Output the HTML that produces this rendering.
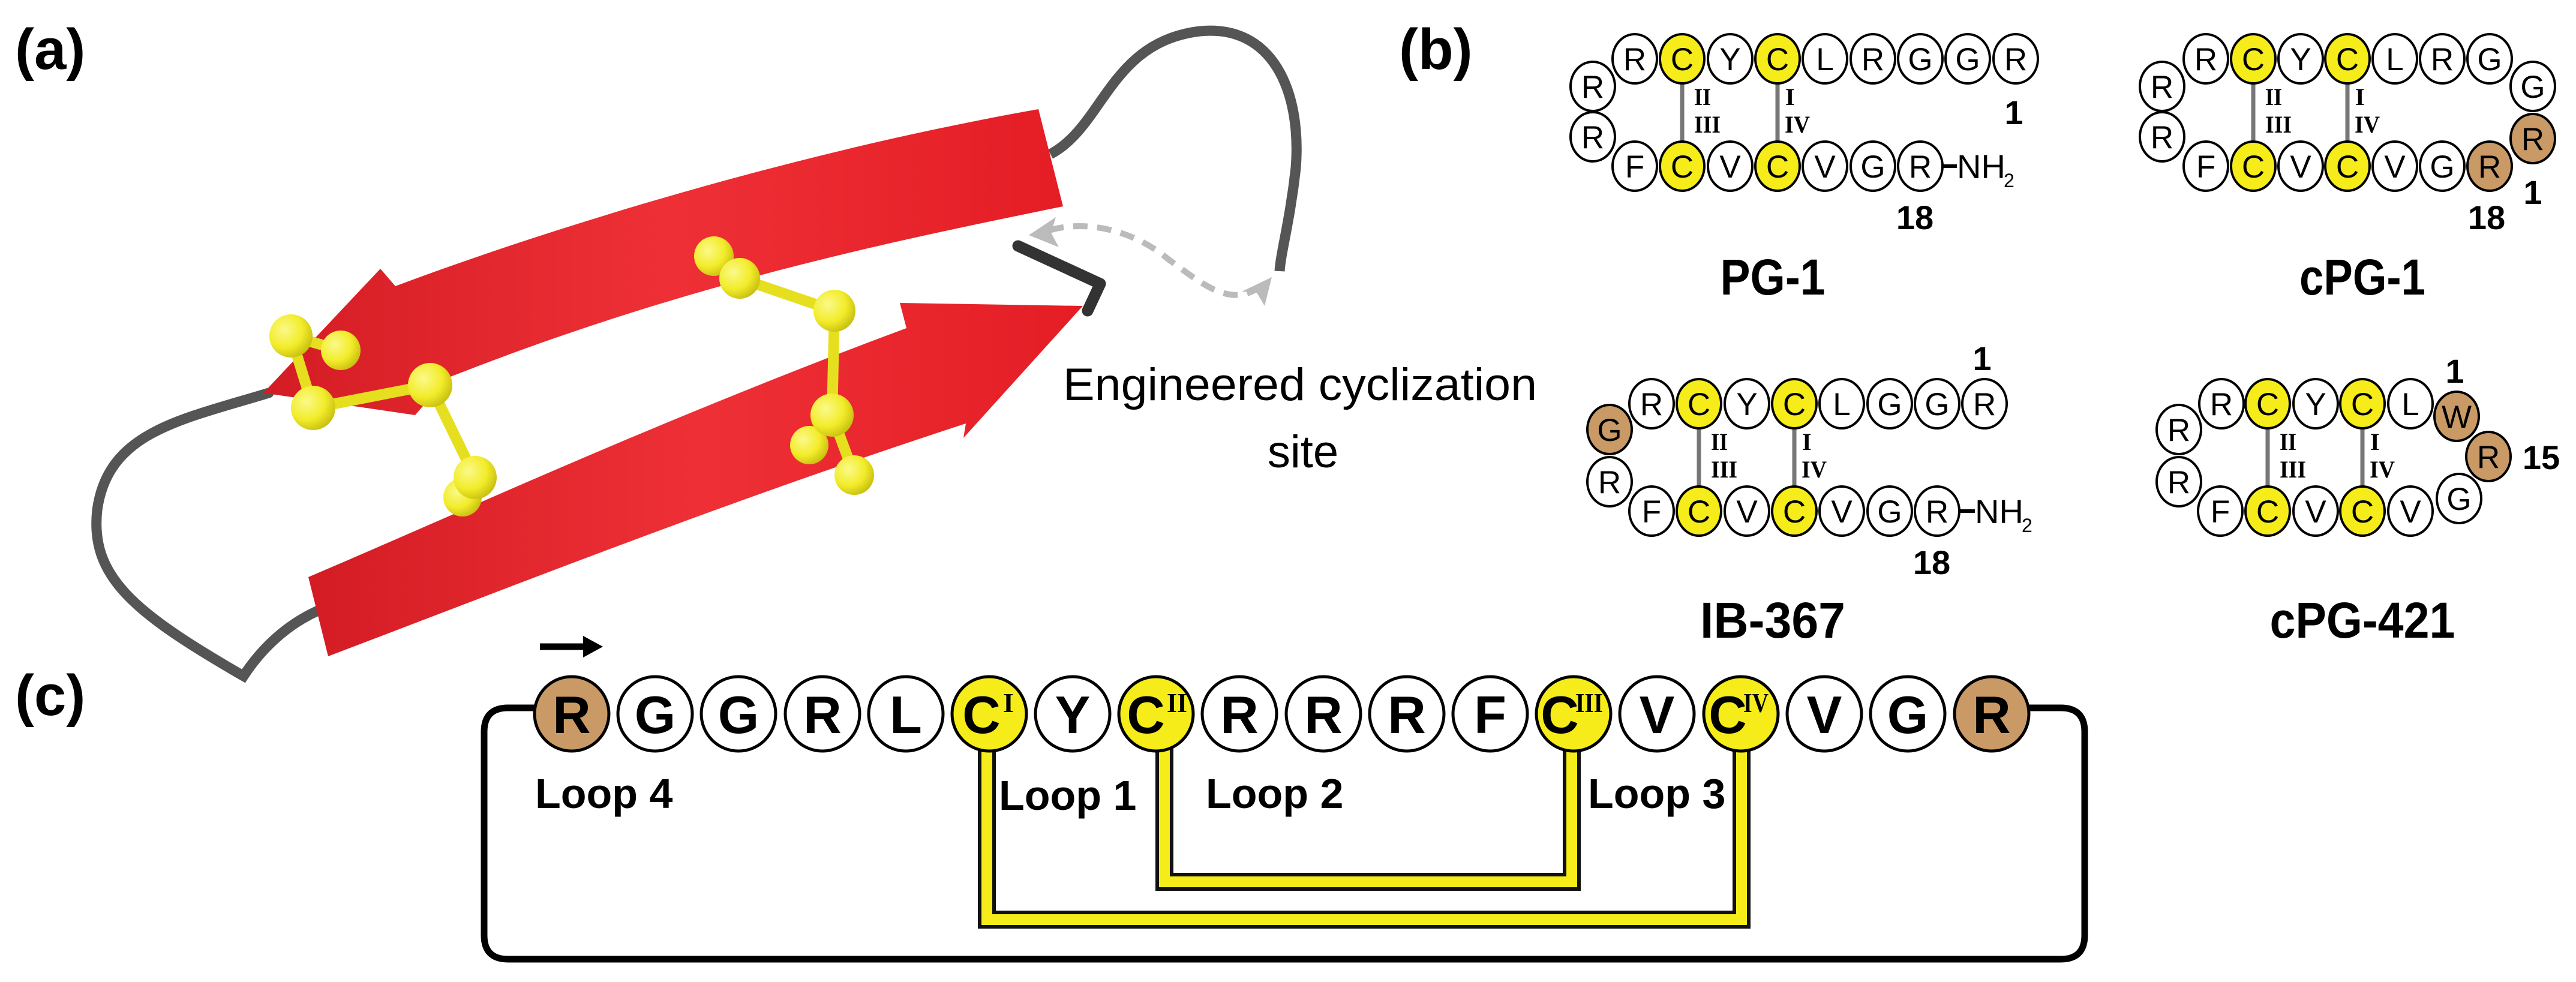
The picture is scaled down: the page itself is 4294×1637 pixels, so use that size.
<!DOCTYPE html>
<html><head><meta charset="utf-8"><style>
html,body{margin:0;padding:0;background:#fff}
svg{display:block}
.l{font-family:"Liberation Sans",sans-serif}
.b{font-family:"Liberation Sans",sans-serif;font-weight:bold}
.rm{font-family:"Liberation Serif",serif;font-weight:bold}
.cb ellipse{stroke:#000;stroke-width:4}
.cb text{font-family:"Liberation Sans",sans-serif;font-size:53px;text-anchor:middle}
.cc circle{stroke:#000;stroke-width:5}
.cc text{font-family:"Liberation Sans",sans-serif;font-weight:bold;font-size:88px;text-anchor:middle}
.w{fill:#fff}.y{fill:#f5ec1a}.t{fill:#c99a66}
</style></head><body>
<svg width="4294" height="1637" viewBox="0 0 4294 1637" xmlns="http://www.w3.org/2000/svg">
<defs>
<linearGradient id="rg" x1="0" y1="0" x2="1" y2="0">
<stop offset="0" stop-color="#d41c24"/><stop offset="0.5" stop-color="#ee3036"/><stop offset="1" stop-color="#e51d25"/></linearGradient>
<radialGradient id="yb" cx="0.35" cy="0.35" r="0.7"><stop offset="0" stop-color="#fbf98a"/><stop offset="0.6" stop-color="#f2ec2a"/><stop offset="1" stop-color="#c8c010"/></radialGradient>
</defs>

<!-- panel labels -->
<text x="25" y="115" class="b" font-size="96">(a)</text>
<text x="2332" y="115" class="b" font-size="96">(b)</text>
<text x="25" y="1192" class="b" font-size="96">(c)</text>

<!-- panel a -->
<path d="M448,655 C300,700 180,720 162,850 C150,960 220,1020 406,1127 C430,1090 470,1045 530,1018" fill="none" stroke="#555" stroke-width="17" stroke-linecap="round"/>
<path d="M1751,257 C1840,210 1850,70 2000,52 C2120,40 2170,150 2160,280 C2150,370 2135,420 2133,452" fill="none" stroke="#555" stroke-width="17"/>
<path d="M1731,182 L1772,344 C1500,400 1150,470 746,630 L692,692 L439,655 L634,448 L659,477 C1000,350 1400,240 1731,182 Z" fill="url(#rg)"/>
<path d="M514,962 C800,840 1100,700 1511,547 L1500,505 L1805,510 L1606,730 L1610,706 C1200,840 900,960 547,1094 Z" fill="url(#rg)"/>
<path d="M1697,410 L1834,473 L1813,518" fill="none" stroke="#333" stroke-width="19" stroke-linecap="round" stroke-linejoin="round"/>
<path d="M2100,478 C2050,515 2000,470 1946,431 C1900,392 1820,362 1745,385" fill="none" stroke="#bbb" stroke-width="10" stroke-dasharray="24 16"/>
<path d="M1715,392 L1760,362 L1752,388 L1765,412 Z" fill="#bbb"/>
<path d="M2120,462 L2108,510 L2095,488 L2070,486 Z" fill="#bbb"/>
<g stroke="#e6df20" stroke-width="18" stroke-linecap="round">
<line x1="485" y1="560" x2="568" y2="584"/><line x1="485" y1="560" x2="522" y2="680"/><line x1="522" y1="680" x2="717" y2="642"/><line x1="717" y1="642" x2="792" y2="796"/><line x1="792" y1="796" x2="771" y2="829"/>
<line x1="1190" y1="427" x2="1233" y2="464"/><line x1="1233" y1="464" x2="1391" y2="518"/><line x1="1391" y1="518" x2="1387" y2="692"/><line x1="1387" y1="692" x2="1349" y2="742"/><line x1="1387" y1="692" x2="1424" y2="792"/>
</g>
<g fill="url(#yb)">
<circle cx="568" cy="584" r="33"/><circle cx="485" cy="560" r="36"/><circle cx="522" cy="680" r="37"/><circle cx="717" cy="642" r="37"/><circle cx="771" cy="829" r="32"/><circle cx="792" cy="796" r="36"/>
<circle cx="1190" cy="427" r="33"/><circle cx="1233" cy="464" r="34"/><circle cx="1391" cy="518" r="35"/><circle cx="1349" cy="742" r="32"/><circle cx="1387" cy="692" r="36"/><circle cx="1424" cy="792" r="33"/>
</g>
<text x="1772" y="667" class="l" font-size="76" textLength="790" lengthAdjust="spacingAndGlyphs">Engineered cyclization</text>
<text x="2172" y="779" class="l" font-size="76" text-anchor="middle">site</text>

<!-- panel b: PG-1 -->
<g stroke="#777" stroke-width="7"><line x1="2804" y1="130" x2="2804" y2="245"/><line x1="2963" y1="130" x2="2963" y2="245"/>
<line x1="3756" y1="130" x2="3756" y2="245"/><line x1="3913" y1="130" x2="3913" y2="245"/>
<line x1="2832" y1="705" x2="2832" y2="820"/><line x1="2991" y1="705" x2="2991" y2="820"/>
<line x1="3780" y1="705" x2="3780" y2="820"/><line x1="3938" y1="705" x2="3938" y2="820"/></g>
<g class="cb">
<ellipse cx="2655" cy="144" rx="37" ry="41" class="w"/><text x="2655" y="163">R</text>
<ellipse cx="2655" cy="228" rx="37" ry="41" class="w"/><text x="2655" y="247">R</text>
<ellipse cx="2725" cy="98" rx="37" ry="41" class="w"/><text x="2725" y="117">R</text>
<ellipse cx="2804" cy="98" rx="37" ry="41" class="y"/><text x="2804" y="117">C</text>
<ellipse cx="2884" cy="98" rx="37" ry="41" class="w"/><text x="2884" y="117">Y</text>
<ellipse cx="2963" cy="98" rx="37" ry="41" class="y"/><text x="2963" y="117">C</text>
<ellipse cx="3042" cy="98" rx="37" ry="41" class="w"/><text x="3042" y="117">L</text>
<ellipse cx="3122" cy="98" rx="37" ry="41" class="w"/><text x="3122" y="117">R</text>
<ellipse cx="3201" cy="98" rx="37" ry="41" class="w"/><text x="3201" y="117">G</text>
<ellipse cx="3280" cy="98" rx="37" ry="41" class="w"/><text x="3280" y="117">G</text>
<ellipse cx="3360" cy="98" rx="37" ry="41" class="w"/><text x="3360" y="117">R</text>
<ellipse cx="2725" cy="277" rx="37" ry="41" class="w"/><text x="2725" y="296">F</text>
<ellipse cx="2804" cy="277" rx="37" ry="41" class="y"/><text x="2804" y="296">C</text>
<ellipse cx="2884" cy="277" rx="37" ry="41" class="w"/><text x="2884" y="296">V</text>
<ellipse cx="2963" cy="277" rx="37" ry="41" class="y"/><text x="2963" y="296">C</text>
<ellipse cx="3042" cy="277" rx="37" ry="41" class="w"/><text x="3042" y="296">V</text>
<ellipse cx="3122" cy="277" rx="37" ry="41" class="w"/><text x="3122" y="296">G</text>
<ellipse cx="3201" cy="277" rx="37" ry="41" class="w"/><text x="3201" y="296">R</text>
</g>
<line x1="3238" y1="277" x2="3262" y2="277" stroke="#000" stroke-width="6"/>
<text x="3262" y="297" class="l" font-size="56">NH</text><text x="3340" y="312" class="l" font-size="32">2</text>
<text x="2824" y="175" class="rm" font-size="40" textLength="28" lengthAdjust="spacingAndGlyphs">II</text>
<text x="2824" y="221" class="rm" font-size="40" textLength="44" lengthAdjust="spacingAndGlyphs">III</text>
<text x="2976" y="175" class="rm" font-size="40">I</text>
<text x="2975" y="221" class="rm" font-size="40" textLength="42" lengthAdjust="spacingAndGlyphs">IV</text>
<text x="3357" y="207" class="b" font-size="56" text-anchor="middle">1</text>
<text x="3192" y="382" class="b" font-size="56" text-anchor="middle">18</text>
<text x="2955" y="491" class="b" font-size="84" text-anchor="middle" textLength="175" lengthAdjust="spacingAndGlyphs">PG-1</text>

<!-- cPG-1 -->
<g class="cb">
<ellipse cx="3604" cy="144" rx="37" ry="41" class="w"/><text x="3604" y="163">R</text>
<ellipse cx="3604" cy="228" rx="37" ry="41" class="w"/><text x="3604" y="247">R</text>
<ellipse cx="3677" cy="98" rx="37" ry="41" class="w"/><text x="3677" y="117">R</text>
<ellipse cx="3756" cy="98" rx="37" ry="41" class="y"/><text x="3756" y="117">C</text>
<ellipse cx="3835" cy="98" rx="37" ry="41" class="w"/><text x="3835" y="117">Y</text>
<ellipse cx="3913" cy="98" rx="37" ry="41" class="y"/><text x="3913" y="117">C</text>
<ellipse cx="3992" cy="98" rx="37" ry="41" class="w"/><text x="3992" y="117">L</text>
<ellipse cx="4071" cy="98" rx="37" ry="41" class="w"/><text x="4071" y="117">R</text>
<ellipse cx="4150" cy="98" rx="37" ry="41" class="w"/><text x="4150" y="117">G</text>
<ellipse cx="4222" cy="144" rx="37" ry="41" class="w"/><text x="4222" y="163">G</text>
<ellipse cx="4222" cy="231" rx="37" ry="41" class="t"/><text x="4222" y="250">R</text>
<ellipse cx="3677" cy="277" rx="37" ry="41" class="w"/><text x="3677" y="296">F</text>
<ellipse cx="3756" cy="277" rx="37" ry="41" class="y"/><text x="3756" y="296">C</text>
<ellipse cx="3835" cy="277" rx="37" ry="41" class="w"/><text x="3835" y="296">V</text>
<ellipse cx="3913" cy="277" rx="37" ry="41" class="y"/><text x="3913" y="296">C</text>
<ellipse cx="3992" cy="277" rx="37" ry="41" class="w"/><text x="3992" y="296">V</text>
<ellipse cx="4071" cy="277" rx="37" ry="41" class="w"/><text x="4071" y="296">G</text>
<ellipse cx="4150" cy="277" rx="37" ry="41" class="t"/><text x="4150" y="296">R</text>
</g>
<text x="3776" y="175" class="rm" font-size="40" textLength="28" lengthAdjust="spacingAndGlyphs">II</text>
<text x="3776" y="221" class="rm" font-size="40" textLength="44" lengthAdjust="spacingAndGlyphs">III</text>
<text x="3926" y="175" class="rm" font-size="40">I</text>
<text x="3925" y="221" class="rm" font-size="40" textLength="42" lengthAdjust="spacingAndGlyphs">IV</text>
<text x="4222" y="340" class="b" font-size="56" text-anchor="middle">1</text>
<text x="4145" y="382" class="b" font-size="56" text-anchor="middle">18</text>
<text x="3938" y="491" class="b" font-size="84" text-anchor="middle" textLength="210" lengthAdjust="spacingAndGlyphs">cPG-1</text>

<!-- IB-367 -->
<g class="cb">
<ellipse cx="2683" cy="716" rx="37" ry="41" class="t"/><text x="2683" y="735">G</text>
<ellipse cx="2683" cy="803" rx="37" ry="41" class="w"/><text x="2683" y="822">R</text>
<ellipse cx="2753" cy="673" rx="37" ry="41" class="w"/><text x="2753" y="692">R</text>
<ellipse cx="2832" cy="673" rx="37" ry="41" class="y"/><text x="2832" y="692">C</text>
<ellipse cx="2912" cy="673" rx="37" ry="41" class="w"/><text x="2912" y="692">Y</text>
<ellipse cx="2991" cy="673" rx="37" ry="41" class="y"/><text x="2991" y="692">C</text>
<ellipse cx="3070" cy="673" rx="37" ry="41" class="w"/><text x="3070" y="692">L</text>
<ellipse cx="3150" cy="673" rx="37" ry="41" class="w"/><text x="3150" y="692">G</text>
<ellipse cx="3229" cy="673" rx="37" ry="41" class="w"/><text x="3229" y="692">G</text>
<ellipse cx="3308" cy="673" rx="37" ry="41" class="w"/><text x="3308" y="692">R</text>
<ellipse cx="2753" cy="852" rx="37" ry="41" class="w"/><text x="2753" y="871">F</text>
<ellipse cx="2832" cy="852" rx="37" ry="41" class="y"/><text x="2832" y="871">C</text>
<ellipse cx="2912" cy="852" rx="37" ry="41" class="w"/><text x="2912" y="871">V</text>
<ellipse cx="2991" cy="852" rx="37" ry="41" class="y"/><text x="2991" y="871">C</text>
<ellipse cx="3070" cy="852" rx="37" ry="41" class="w"/><text x="3070" y="871">V</text>
<ellipse cx="3150" cy="852" rx="37" ry="41" class="w"/><text x="3150" y="871">G</text>
<ellipse cx="3229" cy="852" rx="37" ry="41" class="w"/><text x="3229" y="871">R</text>
</g>
<line x1="3266" y1="852" x2="3292" y2="852" stroke="#000" stroke-width="6"/>
<text x="3292" y="872" class="l" font-size="56">NH</text><text x="3370" y="887" class="l" font-size="32">2</text>
<text x="2852" y="750" class="rm" font-size="40" textLength="28" lengthAdjust="spacingAndGlyphs">II</text>
<text x="2852" y="796" class="rm" font-size="40" textLength="44" lengthAdjust="spacingAndGlyphs">III</text>
<text x="3004" y="750" class="rm" font-size="40">I</text>
<text x="3003" y="796" class="rm" font-size="40" textLength="42" lengthAdjust="spacingAndGlyphs">IV</text>
<text x="3304" y="617" class="b" font-size="56" text-anchor="middle">1</text>
<text x="3220" y="957" class="b" font-size="56" text-anchor="middle">18</text>
<text x="2955" y="1063" class="b" font-size="84" text-anchor="middle" textLength="242" lengthAdjust="spacingAndGlyphs">IB-367</text>

<!-- cPG-421 -->
<g class="cb">
<ellipse cx="3632" cy="716" rx="37" ry="41" class="w"/><text x="3632" y="735">R</text>
<ellipse cx="3632" cy="803" rx="37" ry="41" class="w"/><text x="3632" y="822">R</text>
<ellipse cx="3703" cy="673" rx="37" ry="41" class="w"/><text x="3703" y="692">R</text>
<ellipse cx="3780" cy="673" rx="37" ry="41" class="y"/><text x="3780" y="692">C</text>
<ellipse cx="3860" cy="673" rx="37" ry="41" class="w"/><text x="3860" y="692">Y</text>
<ellipse cx="3938" cy="673" rx="37" ry="41" class="y"/><text x="3938" y="692">C</text>
<ellipse cx="4018" cy="673" rx="37" ry="41" class="w"/><text x="4018" y="692">L</text>
<ellipse cx="4095" cy="694" rx="37" ry="41" class="t"/><text x="4095" y="713">W</text>
<ellipse cx="4148" cy="761" rx="37" ry="41" class="t"/><text x="4148" y="780">R</text>
<ellipse cx="4099" cy="831" rx="37" ry="41" class="w"/><text x="4099" y="850">G</text>
<ellipse cx="3701" cy="852" rx="37" ry="41" class="w"/><text x="3701" y="871">F</text>
<ellipse cx="3780" cy="852" rx="37" ry="41" class="y"/><text x="3780" y="871">C</text>
<ellipse cx="3860" cy="852" rx="37" ry="41" class="w"/><text x="3860" y="871">V</text>
<ellipse cx="3938" cy="852" rx="37" ry="41" class="y"/><text x="3938" y="871">C</text>
<ellipse cx="4018" cy="852" rx="37" ry="41" class="w"/><text x="4018" y="871">V</text>
</g>
<text x="3800" y="750" class="rm" font-size="40" textLength="28" lengthAdjust="spacingAndGlyphs">II</text>
<text x="3800" y="796" class="rm" font-size="40" textLength="44" lengthAdjust="spacingAndGlyphs">III</text>
<text x="3951" y="750" class="rm" font-size="40">I</text>
<text x="3950" y="796" class="rm" font-size="40" textLength="42" lengthAdjust="spacingAndGlyphs">IV</text>
<text x="4092" y="638" class="b" font-size="56" text-anchor="middle">1</text>
<text x="4236" y="782" class="b" font-size="56" text-anchor="middle">15</text>
<text x="3938" y="1063" class="b" font-size="84" text-anchor="middle" textLength="309" lengthAdjust="spacingAndGlyphs">cPG-421</text>

<!-- panel c -->
<path d="M900,1180 H847 Q807,1180 807,1220 V1559 Q807,1599 847,1599 H3435 Q3475,1599 3475,1559 V1220 Q3475,1180 3435,1180 H3370" fill="none" stroke="#000" stroke-width="11"/>
<g fill="none" stroke-linejoin="miter">
<path d="M1645,1240 V1533 H2903 V1240" stroke="#111" stroke-width="30"/>
<path d="M1645,1240 V1533 H2903 V1240" stroke="#f5ec1a" stroke-width="18"/>
<path d="M1941,1240 V1470 H2620 V1240" stroke="#111" stroke-width="30"/>
<path d="M1941,1240 V1470 H2620 V1240" stroke="#f5ec1a" stroke-width="18"/>
</g>
<line x1="900" y1="1078" x2="980" y2="1078" stroke="#000" stroke-width="11"/>
<path d="M1005,1078 L972,1060 L972,1096 Z" fill="#000"/>
<g class="cc">
<circle cx="953" cy="1190" r="62" class="t"/><text x="953" y="1222">R</text>
<circle cx="1092" cy="1190" r="62" class="w"/><text x="1092" y="1222">G</text>
<circle cx="1231" cy="1190" r="62" class="w"/><text x="1231" y="1222">G</text>
<circle cx="1371" cy="1190" r="62" class="w"/><text x="1371" y="1222">R</text>
<circle cx="1510" cy="1190" r="62" class="w"/><text x="1510" y="1222">L</text>
<circle cx="1649" cy="1190" r="62" class="y"/><text x="1636" y="1222">C</text>
<circle cx="1788" cy="1190" r="62" class="w"/><text x="1788" y="1222">Y</text>
<circle cx="1927" cy="1190" r="62" class="y"/><text x="1910" y="1222">C</text>
<circle cx="2066" cy="1190" r="62" class="w"/><text x="2066" y="1222">R</text>
<circle cx="2206" cy="1190" r="62" class="w"/><text x="2206" y="1222">R</text>
<circle cx="2345" cy="1190" r="62" class="w"/><text x="2345" y="1222">R</text>
<circle cx="2484" cy="1190" r="62" class="w"/><text x="2484" y="1222">F</text>
<circle cx="2623" cy="1190" r="62" class="y"/><text x="2600" y="1222">C</text>
<circle cx="2762" cy="1190" r="62" class="w"/><text x="2762" y="1222">V</text>
<circle cx="2902" cy="1190" r="62" class="y"/><text x="2880" y="1222">C</text>
<circle cx="3041" cy="1190" r="62" class="w"/><text x="3041" y="1222">V</text>
<circle cx="3180" cy="1190" r="62" class="w"/><text x="3180" y="1222">G</text>
<circle cx="3320" cy="1190" r="62" class="t"/><text x="3320" y="1222">R</text>
</g>
<text x="1672" y="1187" class="rm" font-size="46">I</text>
<text x="1945" y="1187" class="rm" font-size="46" textLength="34" lengthAdjust="spacingAndGlyphs">II</text>
<text x="2626" y="1187" class="rm" font-size="46" textLength="46" lengthAdjust="spacingAndGlyphs">III</text>
<text x="2906" y="1187" class="rm" font-size="46" textLength="42" lengthAdjust="spacingAndGlyphs">IV</text>
<text x="892" y="1347" class="b" font-size="70">Loop 4</text>
<text x="1665" y="1350" class="b" font-size="70">Loop 1</text>
<text x="2010" y="1347" class="b" font-size="70">Loop 2</text>
<text x="2647" y="1347" class="b" font-size="70">Loop 3</text>
</svg>
</body></html>
